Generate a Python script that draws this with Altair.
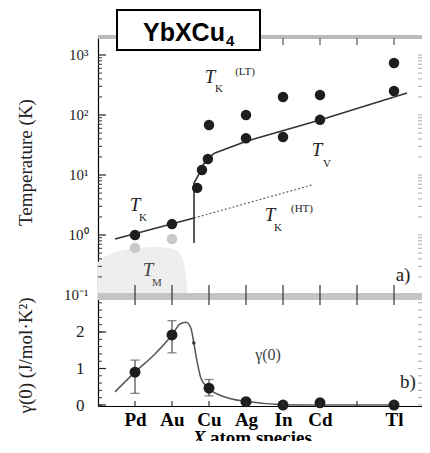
import altair as alt
import pandas as pd

SERIF = "Liberation Serif"
SANS = "Liberation Sans"

# ---------------- data ----------------
species = ["Pd", "Au", "Cu", "Ag", "In", "Cd", "Tl"]
species_pos = [1, 2, 3, 4, 5, 6, 8]
tick_pos = [1, 2, 3, 4, 5, 6, 7, 8]

# panel a) temperatures (K)
tk_lt_x = [3.0, 4, 5, 6, 8]
tk_lt_y = [68, 100, 200, 215, 735]
tv_x = [2.68, 2.81, 2.97, 4, 5, 6, 8]
tv_y = [6.1, 12.1, 18.5, 41, 43, 83, 251]
tk_x = [1, 2]
tk_y = [1.0, 1.52]
tm_x = [1, 2]
tm_y = [0.61, 0.86]

# guide lines
tk_line_x = [0.46, 2.595]
tk_line_y = [0.86, 1.92]
ht_line_x = [2.595, 5.78]
ht_line_y = [1.92, 6.8]
tv_line_x = [2.595, 2.595, 2.703, 2.838, 2.973, 3.162, 4.027, 6.0, 8.35]
tv_line_y = [0.736, 7.36, 9.62, 14.7, 19.2, 23.3, 36.9, 82.5, 232.6]
tm_area_x = [0.0, 0.324, 0.865, 1.676, 2.108, 2.297, 2.378, 2.432]
tm_area_y = [0.355, 0.48, 0.585, 0.63, 0.56, 0.38, 0.215, 0.0962]

# panel b) gamma(0)
g_x = [1, 2, 3, 4, 5, 6, 8]
g_y = [0.9, 1.92, 0.46, 0.09, 0.0, 0.06, 0.0]
err_x = [1, 2, 3]
err_lo = [0.32, 1.43, 0.25]
err_hi = [1.23, 2.31, 0.70]
g_curve_x = [0.46, 1.0, 1.54, 2.0, 2.22, 2.38, 2.51, 2.59, 2.68, 2.78, 2.97, 3.43, 4.0, 5.0, 6.0, 8.0]
g_curve_y = [0.36, 0.9, 1.40, 1.92, 2.22, 2.27, 2.11, 1.70, 1.18, 0.74, 0.47, 0.22, 0.10, 0.01, 0.0, 0.0]

log_major = [0.1, 1, 10, 100, 1000]
log_minor = [m * 10 ** d for d in range(-1, 4) for m in range(2, 10) if m * 10 ** d < 1990]
lin_major = [0, 1, 2]
lin_minor = [round(0.2 * i, 1) for i in range(0, 15)]

# ---------------- layout ----------------
W = 324          # plot width
HT = 259         # height of panel a)
HB = 110         # height of panel b)
H = HT + HB
YMIN_T = 10 ** -1.0167
YMAX_T = 10 ** 3.3

x_scale = alt.Scale(domain=[0, W / 37.0], nice=False, zero=False)
yt_scale = alt.Scale(type="log", domain=[YMIN_T, YMAX_T], nice=False, range=[HT, 0])
yb_scale = alt.Scale(domain=[-0.027, 2.986], nice=False, zero=False, range=[H, HT])

sup = {1000: "10\u00b3", 100: "10\u00b2", 10: "10\u00b9", 1: "10\u2070", 0.1: "10\u207b\u00b9"}
top_label_expr = " : ".join(f"datum.value == {v} ? '{s}'" for v, s in sup.items()) + " : ''"
bot_label_expr = " : ".join(
    f"datum.value == {p} ? '{s}'" for p, s in zip(species_pos, species)
) + " : ''"

top_y_axis = alt.Axis(
    orient="left", values=log_major, labelExpr=top_label_expr, ticks=False, grid=False,
    domainColor="black", domainWidth=1.2, labelFont=SERIF, labelFontSize=15,
    labelColor="#222", labelPadding=10, labelOverlap=False,
    title="Temperature (K)", titleFont=SERIF, titleFontSize=19, titleFontWeight="normal",
    titleColor="#222", titleAngle=270, titleX=-73, titleY=125,
    titleAlign="center", titleBaseline="middle",
)
bot_y_axis = alt.Axis(
    orient="left", values=lin_major, ticks=False, grid=False, domainColor="black",
    domainWidth=1.2, labelFont=SERIF, labelFontSize=17, labelColor="#222", labelPadding=14,
    labelOverlap=False,
    title="\u03b3(0) (J/mol\u00b7K\u00b2)", titleFont=SERIF, titleFontSize=19,
    titleFontWeight="normal", titleColor="#222", titleAngle=270, titleX=-73, titleY=318,
    titleAlign="center", titleBaseline="middle",
)
x_axis = alt.Axis(
    values=species_pos, labelExpr=bot_label_expr, ticks=False, grid=False,
    domainColor="black", domainWidth=1.2, labelFont=SERIF, labelFontSize=19,
    labelFontWeight="bold", labelColor="black", labelPadding=4, title=None,
    labelFlush=False, labelOverlap=False,
)

def X(field="x"):
    return alt.X(f"{field}:Q", scale=x_scale, axis=x_axis)

def yt(field="y"):
    return alt.Y(f"{field}:Q", scale=yt_scale, axis=top_y_axis)

def yb(field="y"):
    return alt.Y(f"{field}:Q", scale=yb_scale, axis=bot_y_axis)

one = pd.DataFrame({"a": [0]})

def txt(text, x, y, size, style="italic", weight="normal", font=SERIF, color="#222",
        align="center", baseline="middle"):
    return alt.Chart(one).mark_text(
        text=text, font=font, fontSize=size, fontStyle=style, fontWeight=weight,
        color=color, align=align, baseline=baseline,
    ).encode(x=alt.value(x), y=alt.value(y))

def df(xs, ys):
    return pd.DataFrame({"x": xs, "y": ys, "i": list(range(len(xs)))})

# ---------------- panel a ----------------
tm_area = alt.Chart(
    pd.DataFrame({"x": tm_area_x, "y": tm_area_y, "b": [YMIN_T] * len(tm_area_x)})
).mark_area(color="#eeeeee", interpolate="monotone").encode(x=X(), y=yt(), y2="b:Q")

t_minor = alt.Chart(pd.DataFrame({"y": log_minor})).mark_rule(color="#333", strokeWidth=1).encode(
    y=yt(), x=alt.value(0), x2=alt.value(4))
t_major = alt.Chart(pd.DataFrame({"y": log_major})).mark_rule(color="#222", strokeWidth=1.2).encode(
    y=yt(), x=alt.value(0), x2=alt.value(8))
t_right = alt.Chart(pd.DataFrame({"y": log_minor + log_major})).mark_rule(
    color="#aaaaaa", strokeWidth=1).encode(y=yt(), x=alt.value(W - 4), x2=alt.value(W))

tk_line = alt.Chart(df(tk_line_x, tk_line_y)).mark_line(color="#333", strokeWidth=1.6).encode(
    x=X(), y=yt(), order="i:Q")
ht_line = alt.Chart(df(ht_line_x, ht_line_y)).mark_line(
    color="#666", strokeWidth=1.2, strokeDash=[2, 2]).encode(x=X(), y=yt(), order="i:Q")
tv_line = alt.Chart(df(tv_line_x, tv_line_y)).mark_line(color="#333", strokeWidth=1.6).encode(
    x=X(), y=yt(), order="i:Q")

tm_pts = alt.Chart(df(tm_x, tm_y)).mark_circle(color="#c8c8c8", size=110, opacity=1).encode(
    x=X(), y=yt())
blk = pd.concat([df(tk_x, tk_y), df(tv_x, tv_y), df(tk_lt_x, tk_lt_y)])
blk_pts = alt.Chart(blk).mark_circle(color="#1e1e1e", size=110, opacity=1).encode(x=X(), y=yt())

top_group = alt.layer(tm_area, t_minor, t_major, t_right, tk_line, ht_line, tv_line, tm_pts, blk_pts)

# ---------------- panel b ----------------
b_minor = alt.Chart(pd.DataFrame({"y": lin_minor})).mark_rule(color="#333", strokeWidth=1).encode(
    y=yb(), x=alt.value(0), x2=alt.value(4))
b_major = alt.Chart(pd.DataFrame({"y": lin_major})).mark_rule(color="#222", strokeWidth=1.2).encode(
    y=yb(), x=alt.value(0), x2=alt.value(8))
b_right = alt.Chart(pd.DataFrame({"y": lin_minor})).mark_rule(color="#aaaaaa", strokeWidth=1).encode(
    y=yb(), x=alt.value(W - 4), x2=alt.value(W))

g_curve = alt.Chart(df(g_curve_x, g_curve_y)).mark_line(
    color="#555", strokeWidth=1.5, interpolate="monotone").encode(x=X(), y=yb(), order="i:Q")
err_df = pd.DataFrame({"x": err_x, "lo": err_lo, "hi": err_hi})
err_rule = alt.Chart(err_df).mark_rule(color="#555", strokeWidth=1.3).encode(
    x=X(), y=yb("lo"), y2="hi:Q")
err_cap_lo = alt.Chart(err_df).mark_tick(color="#555", thickness=1.3, size=9, orient="horizontal").encode(
    x=X(), y=yb("lo"))
err_cap_hi = alt.Chart(err_df).mark_tick(color="#555", thickness=1.3, size=9, orient="horizontal").encode(
    x=X(), y=yb("hi"))
g_pts = alt.Chart(df(g_x, g_y)).mark_circle(color="#1e1e1e", size=120, opacity=1).encode(x=X(), y=yb())
g_dot = alt.Chart(df([2.59], [1.70])).mark_circle(color="#333", size=12, opacity=1).encode(x=X(), y=yb())

bottom_group = alt.layer(b_minor, b_major, b_right, g_curve, err_rule, err_cap_lo, err_cap_hi, g_pts, g_dot)

# ---------------- frame & annotations (pixel placed) ----------------
tick_df = pd.DataFrame({"x": tick_pos})
top_border = alt.Chart(one).mark_rule(color="#bbbbbb", strokeWidth=4).encode(
    x=alt.value(0), x2=alt.value(W), y=alt.value(0))
top_ticks = alt.Chart(tick_df).mark_rule(color="#555", strokeWidth=1.2).encode(
    x=X(), y=alt.value(1), y2=alt.value(8))
band = alt.Chart(one).mark_rule(color="#c4c4c4", strokeWidth=7).encode(
    x=alt.value(0), x2=alt.value(W), y=alt.value(HT + 0.5))
band_ticks = alt.Chart(tick_df).mark_rule(color="#333", strokeWidth=1.2).encode(
    x=X(), y=alt.value(HT - 11), y2=alt.value(HT + 9))
bot_ticks = alt.Chart(tick_df).mark_rule(color="#333", strokeWidth=1.2).encode(
    x=X(), y=alt.value(H - 5), y2=alt.value(H))

labels = [
    txt("T", 112, 40, 19), txt("K", 121, 52, 11, style="normal"), txt("(LT)", 147, 35, 11, style="normal"),
    txt("T", 219, 113, 19), txt("V", 229, 127, 11, style="normal"),
    txt("T", 37, 168, 19), txt("K", 45, 181, 11, style="normal"),
    txt("T", 50, 233, 19, color="#444"), txt("M", 59, 246, 11, style="normal", color="#444"),
    txt("T", 172, 178, 19), txt("K", 180, 191, 11, style="normal"), txt("(HT)", 204, 172, 11, style="normal"),
    txt("a)", 305, 238, 19, style="normal"),
    txt("\u03b3(0)", 170, HT + 59, 16, style="normal", color="#444"),
    txt("b)", 310, HT + 86, 19, style="normal"),
    txt("X", 95, 407, 19, style="italic", weight="bold", color="black", align="left", baseline="alphabetic"),
    txt("atom species", 112, 407, 19, style="normal", weight="bold", color="black", align="left",
        baseline="alphabetic"),
]

title_box = alt.Chart(one).mark_rect(fill="white", stroke="black", strokeWidth=2).encode(
    x=alt.value(19), x2=alt.value(162), y=alt.value(-27), y2=alt.value(13))
title_txt = txt("YbXCu", 45, 4, 25, style="normal", weight="bold", font=SANS, color="black",
                align="left", baseline="alphabetic")
title_sub = txt("4", 128, 9, 15, style="normal", weight="bold", font=SANS, color="black",
                align="left", baseline="alphabetic")

frame = alt.layer(top_border, top_ticks, band, band_ticks, bot_ticks, *labels,
                  title_box, title_txt, title_sub)

chart = alt.layer(top_group, bottom_group, frame).resolve_scale(
    y="independent"
).resolve_axis(y="independent").properties(
    width=W, height=H,
    autosize=alt.AutoSizeParams(type="none"),
    padding={"left": 90, "top": 29, "right": 0, "bottom": 35},
).configure_view(stroke=None)

chart.save("out.html", embed_options={"renderer": "svg", "actions": False})
